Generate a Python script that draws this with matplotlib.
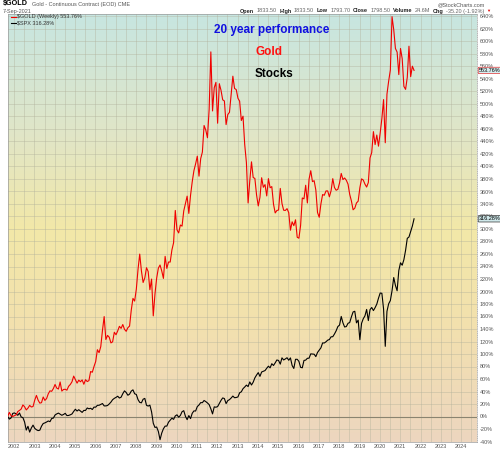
import numpy as np
import matplotlib.pyplot as plt
from matplotlib.colors import LinearSegmentedColormap
from matplotlib.lines import Line2D

plt.rcParams['font.family'] = ['Liberation Sans', 'DejaVu Sans']

# =========================
# Data: weekly-ish closes
# first value = 7-Sep-2001, then month-end closes Sep-2001 .. Jul-2021, last = 7-Sep-2021
# =========================
gold_prices = [
    275.1,
    293, 279, 275, 279,                                              # 2001
    282, 297, 302, 308, 326, 318, 304, 312, 324, 317, 319, 347,      # 2002
    368, 347, 334, 336, 361, 346, 354, 375, 388, 386, 398, 416,      # 2003
    400, 396, 427, 387, 394, 395, 391, 408, 416, 428, 453, 438,      # 2004
    422, 435, 428, 436, 417, 437, 429, 433, 473, 470, 495, 517,      # 2005
    569, 556, 583, 654, 715, 614, 632, 624, 599, 604, 646, 635,      # 2006
    652, 672, 663, 680, 659, 650, 666, 673, 743, 795, 783, 836,      # 2007
    923, 990, 916, 865, 885, 930, 913, 833, 880, 718, 814, 884,      # 2008
    928, 942, 916, 883, 980, 927, 955, 955, 1008, 1040, 1182, 1097,  # 2009
    1083, 1118, 1113, 1180, 1212, 1245, 1169, 1248, 1308, 1357, 1387, 1421,  # 2010
    1333, 1410, 1439, 1556, 1536, 1502, 1628, 1880, 1620, 1722, 1746, 1566,  # 2011
    1740, 1711, 1669, 1664, 1560, 1604, 1614, 1692, 1773, 1719, 1714, 1676,  # 2012
    1663, 1578, 1597, 1472, 1393, 1215, 1313, 1396, 1327, 1323, 1250, 1202,  # 2013
    1240, 1326, 1284, 1296, 1246, 1322, 1282, 1287, 1210, 1171, 1182, 1184,  # 2014
    1279, 1213, 1183, 1182, 1190, 1172, 1095, 1132, 1115, 1141, 1064, 1060,  # 2015
    1116, 1237, 1233, 1293, 1215, 1320, 1357, 1309, 1313, 1272, 1173, 1152,  # 2016
    1211, 1252, 1249, 1268, 1268, 1242, 1269, 1322, 1283, 1271, 1275, 1303,  # 2017
    1345, 1318, 1325, 1315, 1298, 1253, 1224, 1185, 1192, 1215, 1223, 1282,  # 2018
    1321, 1316, 1298, 1285, 1305, 1413, 1437, 1529, 1472, 1514, 1465, 1523,  # 2019
    1587, 1670, 1480, 1694, 1751, 1800, 2035, 1978, 1895, 1879, 1780, 1895,  # 2020
    1850, 1728, 1715, 1768, 1905, 1771, 1817,                        # 2021
    1798.5,
]

spx_prices = [
    1085.8,
    1041, 1060, 1139, 1148,                                          # 2001
    1130, 1107, 1147, 1077, 1067, 990, 850, 916, 815, 886, 936, 880,  # 2002
    856, 841, 848, 917, 964, 975, 990, 1008, 996, 1051, 1058, 1112,  # 2003
    1131, 1145, 1126, 1107, 1121, 1141, 1102, 1104, 1115, 1130, 1174, 1212,  # 2004
    1181, 1204, 1181, 1157, 1192, 1191, 1234, 1220, 1229, 1207, 1249, 1248,  # 2005
    1280, 1281, 1295, 1311, 1270, 1270, 1277, 1304, 1336, 1378, 1401, 1418,  # 2006
    1438, 1407, 1421, 1482, 1531, 1503, 1455, 1474, 1527, 1549, 1481, 1468,  # 2007
    1379, 1331, 1323, 1386, 1400, 1280, 1267, 1283, 1166, 969, 896, 903,     # 2008
    826, 683, 798, 873, 919, 919, 987, 1021, 1057, 1036, 1096, 1115,         # 2009
    1074, 1104, 1169, 1187, 1089, 1031, 1102, 1049, 1141, 1183, 1181, 1258,  # 2010
    1286, 1327, 1326, 1364, 1345, 1321, 1292, 1219, 1131, 1253, 1247, 1258,  # 2011
    1312, 1366, 1408, 1398, 1310, 1362, 1379, 1407, 1441, 1412, 1416, 1426,  # 2012
    1498, 1515, 1569, 1598, 1631, 1606, 1686, 1633, 1682, 1757, 1806, 1848,  # 2013
    1783, 1859, 1872, 1884, 1924, 1960, 1931, 2003, 1972, 2018, 2068, 2059,  # 2014
    1995, 2105, 2068, 2086, 2107, 2063, 2104, 1972, 1920, 2079, 2080, 2044,  # 2015
    1940, 1932, 2060, 2065, 2097, 2099, 2174, 2171, 2168, 2126, 2199, 2239,  # 2016
    2279, 2364, 2363, 2384, 2412, 2423, 2470, 2472, 2519, 2575, 2648, 2674,  # 2017
    2824, 2714, 2641, 2648, 2705, 2718, 2816, 2902, 2914, 2712, 2760, 2420,  # 2018
    2704, 2784, 2834, 2946, 2752, 2942, 2980, 2926, 2977, 3038, 3141, 3231,  # 2019
    3226, 2954, 2305, 2912, 3044, 3100, 3271, 3500, 3363, 3270, 3622, 3756,  # 2020
    3714, 3811, 3973, 4181, 4204, 4298, 4395,                        # 2021
    4520.0,
]

year_labels = [str(y) for y in range(2002, 2025)]
pct_ticks = list(range(-40, 641, 20))

# header quote line: (label, value)
quote_items = [('Open', '1833.50'), ('High', '1833.50'), ('Low', '1793.70'),
               ('Close', '1798.50'), ('Volume', '24.6M'), ('Chg', '-35.20 (-1.92%)')]

gold = np.array(gold_prices)
spx = np.array(spx_prices)
gold_pct = (gold / gold[0] - 1) * 100
spx_pct = (spx / spx[0] - 1) * 100

# monthly steps starting 7-Sep-2001 (decimal years)
t = 2001 + 249 / 365 + np.arange(len(gold)) / 12

X_MIN, X_MAX = 2001.70, 2024.78
Y_MIN, Y_MAX = -40.8, 644

# =========================
# Figure
# =========================
fig = plt.figure(figsize=(5, 4.5), dpi=100)
fig.patch.set_facecolor('white')
ax = fig.add_axes([8 / 500, 8 / 450, 469 / 500, 428 / 450])

# gradient background
bg_cmap = LinearSegmentedColormap.from_list('bg', [
    (0.0, (0.78, 0.90, 0.88)),
    (0.28, (0.88, 0.90, 0.78)),
    (0.50, (0.95, 0.91, 0.66)),
    (0.72, (0.95, 0.88, 0.68)),
    (1.0, (0.93, 0.84, 0.75)),
])
grad = np.linspace(0, 1, 256).reshape(-1, 1)
ax.imshow(grad, cmap=bg_cmap, aspect='auto', extent=[X_MIN, X_MAX, Y_MIN, Y_MAX],
          origin='upper', zorder=0)

# grid: horizontal every 20%, vertical every half year
for v in pct_ticks:
    ax.axhline(v, color='#b0b09a', linewidth=0.5, alpha=0.55, zorder=1)
for yr in np.arange(2002, 2025, 0.5):
    ax.axvline(yr, color='#b0b09a', linewidth=0.5, alpha=0.55, zorder=1)
ax.axhline(0, color='#8a8470', linewidth=0.8, zorder=2)

ax.plot(t, spx_pct, color='black', linewidth=0.8, zorder=3)
ax.plot(t, gold_pct, color='#f00000', linewidth=0.8, zorder=4)

ax.set_xlim(X_MIN, X_MAX)
ax.set_ylim(Y_MIN, Y_MAX)

ax.yaxis.tick_right()
ax.set_yticks(pct_ticks)
ax.set_yticklabels([f'{v}%' for v in pct_ticks])
ax.set_xticks(range(2002, 2025))
ax.set_xticklabels(year_labels)
ax.tick_params(axis='both', length=0, labelsize=4, labelcolor='#555555', pad=2)
ax.tick_params(axis='x', pad=1.5)

for s in ax.spines.values():
    s.set_color('#9a9a9a')
    s.set_linewidth(0.5)
ax.spines['right'].set_linestyle(':')

# last-value boxes on the right axis (drawn over the tick labels)
ax.text(1.004, (gold_pct[-1] - Y_MIN) / (Y_MAX - Y_MIN), f'{gold_pct[-1]:.2f}%',
        transform=ax.transAxes, fontsize=4, va='center', ha='left', color='black', zorder=10,
        bbox=dict(boxstyle='round,pad=0.12', fc='#d8eef0', ec='#e03030', lw=0.5))
ax.text(1.004, (spx_pct[-1] - Y_MIN) / (Y_MAX - Y_MIN), f'{spx_pct[-1]:.2f}%',
        transform=ax.transAxes, fontsize=4, va='center', ha='left', color='black', zorder=10,
        bbox=dict(boxstyle='round,pad=0.12', fc='#cfe8ea', ec='#333333', lw=0.5))

# legend
ax.add_line(Line2D([0.006, 0.016], [0.993, 0.993], transform=ax.transAxes, color='#f00000', lw=0.8))
ax.text(0.02, 0.993, f'$GOLD (Weekly) {gold_pct[-1]:.2f}%', transform=ax.transAxes,
        fontsize=4, va='center', color='#333333')
ax.add_line(Line2D([0.006, 0.016], [0.979, 0.979], transform=ax.transAxes, color='black', lw=0.8))
ax.text(0.02, 0.979, f'$SPX {spx_pct[-1]:.2f}%', transform=ax.transAxes,
        fontsize=4, va='center', color='#333333')

# annotations
fig.text(271.5 / 500, 1 - 30 / 450, '20 year performance', color='#1010e0',
         fontsize=8.5, fontweight='bold', ha='center', va='center')
fig.text(269.5 / 500, 1 - 52 / 450, 'Gold', color='#ff1010',
         fontsize=8.5, fontweight='bold', ha='center', va='center')
fig.text(274 / 500, 1 - 74 / 450, 'Stocks', color='black',
         fontsize=8.5, fontweight='bold', ha='center', va='center')

# header
fig.text(3 / 500, 1 - 4 / 450, '$GOLD', fontsize=5.2, fontweight='bold', va='center')
fig.text(32 / 500, 1 - 4.5 / 450, 'Gold - Continuous Contract (EOD) CME', fontsize=4,
         color='#555555', va='center')
fig.text(3 / 500, 1 - 11 / 450, '7-Sep-2021', fontsize=4, color='#555555', va='center')
fig.text(485 / 500, 1 - 4.5 / 450, '@StockCharts.com', fontsize=4, color='#555555',
         va='center', ha='right')

# quote line, bold labels followed by plain values, laid out left to right
renderer = fig.canvas.get_renderer()
x_px = 240.0
for label, value in quote_items:
    for txt, weight, col in [(label, 'bold', '#222222'), (value, 'normal', '#666666')]:
        tt = fig.text(x_px / 500, 1 - 11 / 450, txt, fontsize=4, fontweight=weight,
                      color=col, va='center', ha='left')
        x_px += tt.get_window_extent(renderer).width + 2.5
fig.text((x_px - 0.5) / 500, 1 - 11 / 450, '\u25bc', fontsize=3, color='#e00000',
         va='center', ha='left')

fig.savefig('out.png', dpi=100)
